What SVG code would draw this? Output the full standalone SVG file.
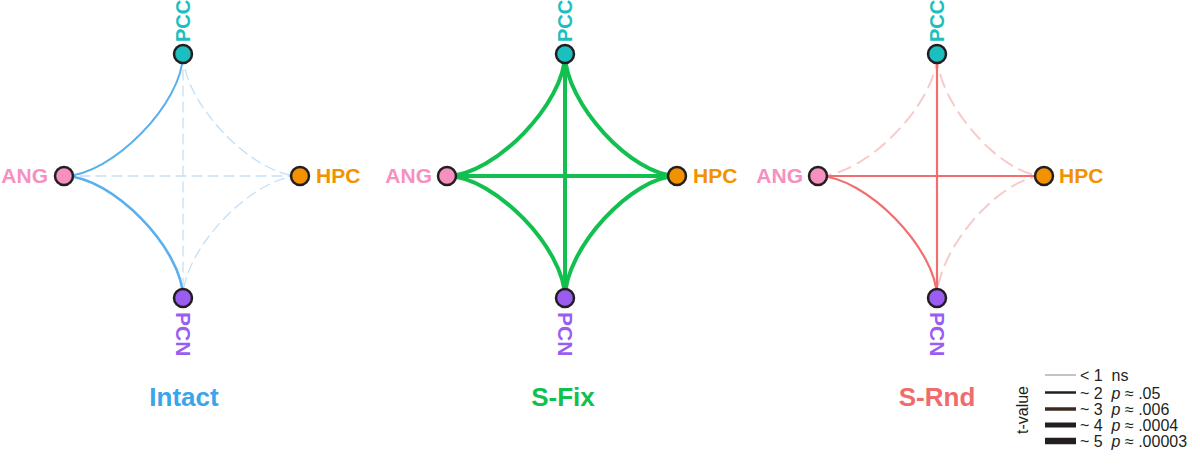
<svg xmlns="http://www.w3.org/2000/svg" width="1200" height="470" viewBox="0 0 1200 470">
<style>
.node{stroke:#231f20;stroke-width:2.5}
.lbl{font-family:"Liberation Sans",Arial,sans-serif;font-weight:bold;font-size:21px}
.vl{font-size:20px}
.title{font-family:"Liberation Sans",Arial,sans-serif;font-weight:bold;font-size:26px;text-anchor:middle}
.e{fill:none;stroke-linecap:round}
.bs{stroke:#5ab0ec}
.bd{stroke:#c5dff5;stroke-width:1.3;stroke-dasharray:10 6}
.g{stroke:#12c04f;stroke-width:4}
.rs{stroke:#f26d6d;stroke-width:2.2}
.rd{stroke:#f9caca;stroke-width:2;stroke-dasharray:13 8}
.leg{font-family:"Liberation Sans",Arial,sans-serif;font-size:16px;fill:#231f20}
.pcc{fill:#1bbfbf}.pcn{fill:#9b5cf2}.ang{fill:#f590c0}.hpc{fill:#f39200}
</style>
<rect width="1200" height="470" fill="#ffffff"/>
<g id="connectors">
  <!-- Intact -->
  <path class="e bd" d="M64,176 H300"/>
  <path class="e bd" d="M183,54 V298"/>
  <path class="e bd" d="M183,54 C183,102.8 253.2,176 300,176"/>
  <path class="e bd" d="M300,176 C253.2,176 183,249.2 183,298"/>
  <path class="e bs" stroke-width="2" d="M64,176 C111.6,176 183,102.8 183,54"/>
  <path class="e bs" stroke-width="2.6" d="M64,176 C111.6,176 183,249.2 183,298"/>
  <!-- S-Fix -->
  <path class="e g" d="M447,176 H677"/>
  <path class="e g" d="M565,54 V298"/>
  <path class="e g" d="M447,176 C494.2,176 565,102.8 565,54"/>
  <path class="e g" d="M447,176 C494.2,176 565,249.2 565,298"/>
  <path class="e g" d="M565,54 C565,102.8 632.2,176 677,176"/>
  <path class="e g" d="M677,176 C632.2,176 565,249.2 565,298"/>
  <!-- S-Rnd -->
  <path class="e rd" d="M818,176 C865.6,176 937,102.8 937,54"/>
  <path class="e rd" d="M937,54 C937,102.8 1001.2,176 1044,176"/>
  <path class="e rd" d="M1044,176 C1001.2,176 937,249.2 937,298"/>
  <path class="e rs" d="M818,176 H1044"/>
  <path class="e rs" d="M937,54 V298"/>
  <path class="e rs" d="M818,176 C865.6,176 937,249.2 937,298"/>
</g>
<g id="intact-PCC"><circle class="node pcc" cx="183" cy="54" r="9"/><text class="lbl vl pcc" transform="translate(190,42) rotate(-90)">PCC</text></g>
<g id="intact-ANG"><circle class="node ang" cx="64" cy="176" r="9"/><text class="lbl ang" x="48" y="183" text-anchor="end">ANG</text></g>
<g id="intact-HPC"><circle class="node hpc" cx="300" cy="176" r="9"/><text class="lbl hpc" x="316" y="183">HPC</text></g>
<g id="intact-PCN"><circle class="node pcn" cx="183" cy="298" r="9"/><text class="lbl pcn" transform="translate(176,312) rotate(90)">PCN</text></g>
<text id="title-intact" class="title" x="184" y="406" fill="#3aa5ea">Intact</text>

<g id="sfix-PCC"><circle class="node pcc" cx="565" cy="54" r="9"/><text class="lbl vl pcc" transform="translate(572,42) rotate(-90)">PCC</text></g>
<g id="sfix-ANG"><circle class="node ang" cx="447" cy="176" r="9"/><text class="lbl ang" x="432" y="183" text-anchor="end">ANG</text></g>
<g id="sfix-HPC"><circle class="node hpc" cx="677" cy="176" r="9"/><text class="lbl hpc" x="693" y="183">HPC</text></g>
<g id="sfix-PCN"><circle class="node pcn" cx="565" cy="298" r="9"/><text class="lbl pcn" transform="translate(558,312) rotate(90)">PCN</text></g>
<text id="title-sfix" class="title" x="563" y="406" fill="#12c04f">S-Fix</text>

<g id="srnd-PCC"><circle class="node pcc" cx="937" cy="54" r="9"/><text class="lbl vl pcc" transform="translate(944,42) rotate(-90)">PCC</text></g>
<g id="srnd-ANG"><circle class="node ang" cx="818" cy="176" r="9"/><text class="lbl ang" x="803" y="183" text-anchor="end">ANG</text></g>
<g id="srnd-HPC"><circle class="node hpc" cx="1044" cy="176" r="9"/><text class="lbl hpc" x="1059" y="183">HPC</text></g>
<g id="srnd-PCN"><circle class="node pcn" cx="937" cy="298" r="9"/><text class="lbl pcn" transform="translate(930,312) rotate(90)">PCN</text></g>
<text id="title-srnd" class="title" x="937" y="406" fill="#f06b6b">S-Rnd</text>

<g id="legend">
  <text class="leg" transform="translate(1028,410) rotate(-90)" text-anchor="middle">t-value</text>
  <line x1="1045" y1="375" x2="1076" y2="375" stroke="#8a8a8a" stroke-width="1"/>
  <line x1="1045" y1="392.5" x2="1076" y2="392.5" stroke="#231f20" stroke-width="2.5"/>
  <line x1="1045" y1="409" x2="1076" y2="409" stroke="#3b2a22" stroke-width="3.5"/>
  <line x1="1045" y1="425" x2="1076" y2="425" stroke="#231f20" stroke-width="5"/>
  <line x1="1045" y1="441" x2="1076" y2="441" stroke="#231f20" stroke-width="6.5"/>
  <text class="leg" x="1080" y="381" xml:space="preserve">&lt; 1  ns</text>
  <text class="leg" x="1080" y="398.5" xml:space="preserve">~ 2  <tspan font-style="italic">p</tspan> ≈ .05</text>
  <text class="leg" x="1080" y="415" xml:space="preserve">~ 3  <tspan font-style="italic">p</tspan> ≈ .006</text>
  <text class="leg" x="1080" y="431" xml:space="preserve">~ 4  <tspan font-style="italic">p</tspan> ≈ .0004</text>
  <text class="leg" x="1080" y="447" xml:space="preserve">~ 5  <tspan font-style="italic">p</tspan> ≈ .00003</text>
</g>
</svg>
